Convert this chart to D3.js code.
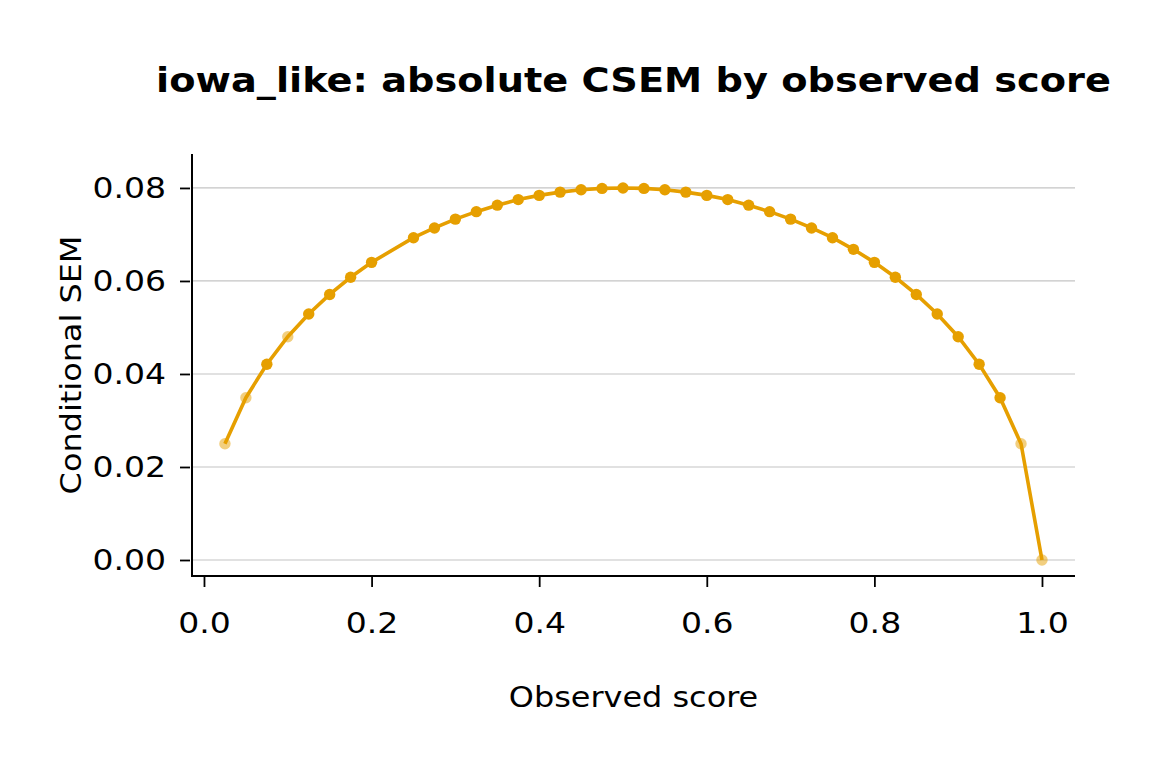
<!DOCTYPE html>
<html>
<head>
<meta charset="utf-8">
<script src="https://cdn.jsdelivr.net/npm/d3@7"></script>
<style>
  body { margin: 0; background: #fff; }
  svg text { font-family: "DejaVu Sans", sans-serif; fill: #000; }
</style>
</head>
<body>
<svg id="chart" width="1152" height="768"></svg>
<script>
// Observed scores (note: 0.225 is not in the data)
const scores = [0.025, 0.05, 0.075, 0.1, 0.125, 0.15, 0.175, 0.2, 0.25, 0.275,
  0.3, 0.325, 0.35, 0.375, 0.4, 0.425, 0.45, 0.475, 0.5, 0.525,
  0.55, 0.575, 0.6, 0.625, 0.65, 0.675, 0.7, 0.725, 0.75, 0.775,
  0.8, 0.825, 0.85, 0.875, 0.9, 0.925, 0.95, 0.975, 1.0];
// Conditional SEM
const csem = [0.0250, 0.0349, 0.0421, 0.0480, 0.0529, 0.0571, 0.0608, 0.0640, 0.0693, 0.0714,
  0.0733, 0.0749, 0.0763, 0.0775, 0.0784, 0.0791, 0.0796, 0.0799, 0.0800, 0.0799,
  0.0796, 0.0791, 0.0784, 0.0775, 0.0763, 0.0749, 0.0733, 0.0714, 0.0693, 0.0668,
  0.0640, 0.0608, 0.0571, 0.0529, 0.0480, 0.0421, 0.0349, 0.0250, 0.0000];
// Points drawn faded
const faded = [0.025, 0.05, 0.1, 0.975, 1.0];
const xTicks = [0, 0.2, 0.4, 0.6, 0.8, 1.0];
const yTicks = [0, 0.02, 0.04, 0.06, 0.08];

const data = scores.map((s, i) => ({ x: s, y: csem[i], faded: faded.includes(s) }));

const svg = d3.select("#chart"),
      margin = {top: 154, right: 77, bottom: 192, left: 192},
      width = +svg.attr("width"),
      height = +svg.attr("height");

const color = "#E69F00";
const sx = 1.14; // text in the reference is a bit wide

const x = d3.scaleLinear()
    .domain([-0.0143, 1.0394])
    .range([margin.left, width - margin.right]);

const y = d3.scaleLinear()
    .domain([-0.00344, 0.0873])
    .range([height - margin.bottom, margin.top]);

// gridlines
svg.append("g")
    .selectAll("line")
    .data(yTicks)
    .join("line")
    .attr("x1", margin.left)
    .attr("x2", width - margin.right)
    .attr("y1", d => y(d))
    .attr("y2", d => y(d))
    .attr("stroke", "#c4c4c4")
    .attr("stroke-width", 1.2);

// x axis
const xAxis = svg.append("g")
    .attr("transform", `translate(0,${height - margin.bottom + 1})`)
    .call(d3.axisBottom(x).tickValues(xTicks).tickFormat(d3.format(".1f")).tickSize(10).tickPadding(25));
xAxis.select(".domain").remove();
xAxis.selectAll("line").attr("stroke", "#000").attr("stroke-width", 1.8);
xAxis.selectAll("text")
    .attr("font-size", "29px")
    .attr("font-family", "DejaVu Sans")
    .attr("transform", `scale(${sx},1)`);

// y axis
const yAxis = svg.append("g")
    .attr("transform", `translate(${margin.left - 2},0)`)
    .call(d3.axisLeft(y).tickValues(yTicks).tickFormat(d3.format(".2f")).tickSize(10).tickPadding(11));
yAxis.select(".domain").remove();
yAxis.selectAll("line").attr("stroke", "#000").attr("stroke-width", 1.8);
yAxis.selectAll("text")
    .attr("font-size", "29px")
    .attr("font-family", "DejaVu Sans")
    .attr("transform", `scale(${sx},1)`);

// spines (left and bottom)
svg.append("path")
    .attr("d", `M${margin.left},${margin.top}V${height - margin.bottom}H${width - margin.right}`)
    .attr("fill", "none")
    .attr("stroke", "#000")
    .attr("stroke-width", 2);

// line
svg.append("path")
    .datum(data)
    .attr("fill", "none")
    .attr("stroke", color)
    .attr("stroke-width", 3.6)
    .attr("d", d3.line().x(d => x(d.x)).y(d => y(d.y)));

// points
svg.append("g")
    .selectAll("circle")
    .data(data)
    .join("circle")
    .attr("cx", d => x(d.x))
    .attr("cy", d => y(d.y))
    .attr("r", 5.7)
    .attr("fill", color)
    .attr("opacity", d => d.faded ? 0.5 : 1);

const midX = (margin.left + width - margin.right) / 2;

// title
svg.append("text")
    .attr("transform", `translate(${midX},92) scale(${sx},1)`)
    .attr("text-anchor", "middle")
    .attr("font-size", "33.6px")
    .attr("font-weight", "bold")
    .text("iowa_like: absolute CSEM by observed score");

// x label
svg.append("text")
    .attr("transform", `translate(${midX},707) scale(${sx},1)`)
    .attr("text-anchor", "middle")
    .attr("font-size", "28px")
    .text("Observed score");

// y label
svg.append("text")
    .attr("transform", `translate(81,${(margin.top + height - margin.bottom) / 2}) rotate(-90) scale(${sx},1)`)
    .attr("text-anchor", "middle")
    .attr("font-size", "28px")
    .text("Conditional SEM");
</script>
</body>
</html>
